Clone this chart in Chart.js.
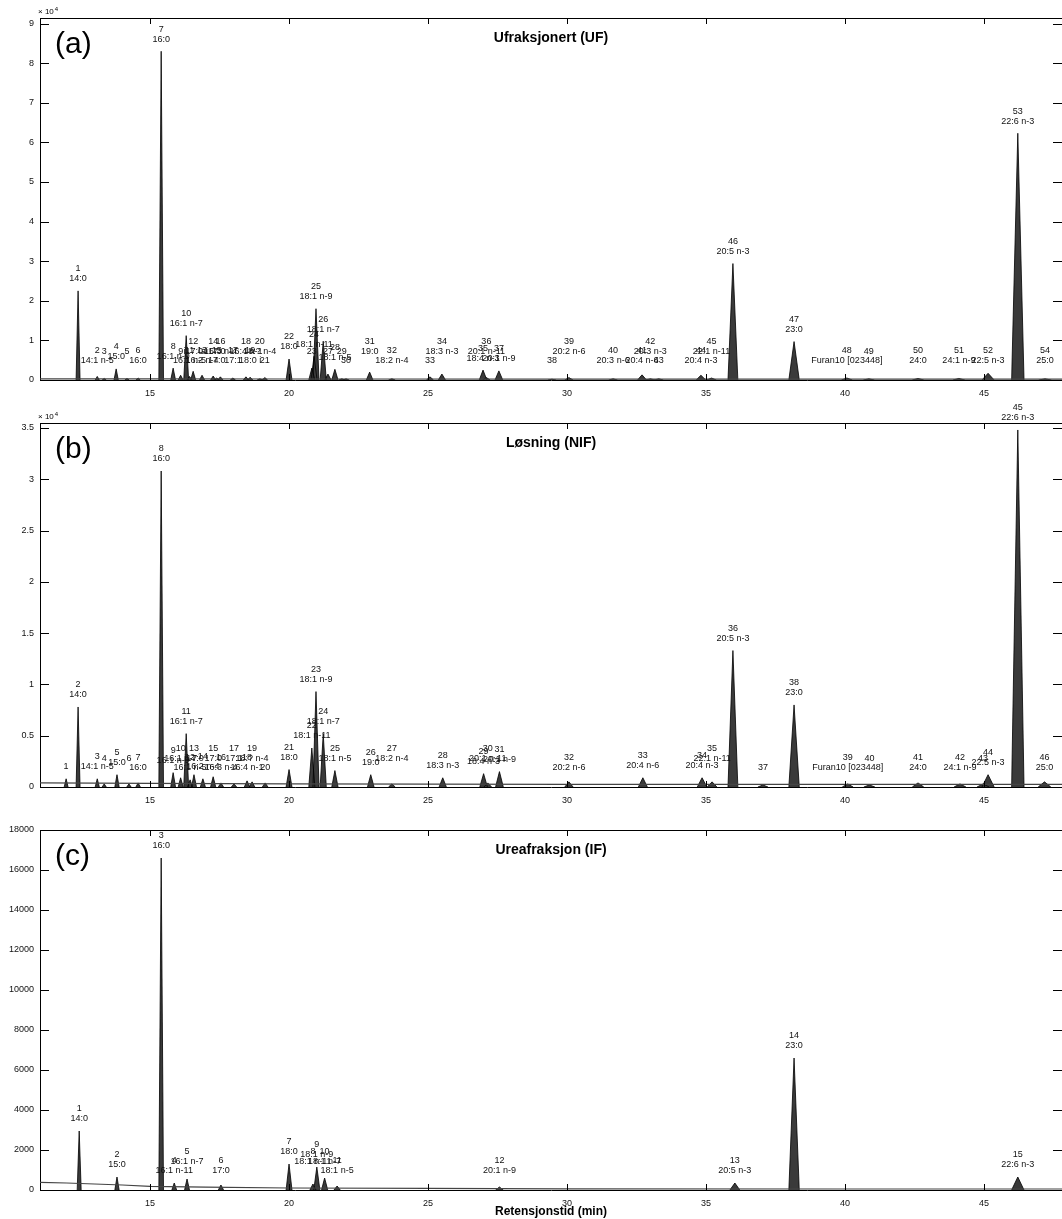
<!DOCTYPE html>
<html>
<head>
<meta charset="utf-8">
<script src="https://cdn.jsdelivr.net/npm/chart.js@4/dist/chart.umd.min.js"></script>
<style>
body { margin: 0; background: #fff; width: 1062px; height: 1219px; overflow: hidden; position: relative; }
canvas { display: block; position: absolute; left: 0; }
#chartA { top: 0; }
#chartB { top: 395px; }
#chartC { top: 810px; }
</style>
</head>
<body>
<canvas id="chartA" width="1062" height="405"></canvas>
<canvas id="chartB" width="1062" height="415"></canvas>
<canvas id="chartC" width="1062" height="409"></canvas>
<script>
// x-akse (retensjonstid, min)
const xTicks = [15, 20, 25, 30, 35, 40, 45];

// (a) Ufraksjonert (UF)
const timesA = [12.41, 13.10, 13.35, 13.78, 14.17, 14.57, 15.40, 15.83, 16.10, 16.30,
  16.42, 16.55, 16.87, 17.27, 17.40, 17.53, 17.98, 18.45, 18.60, 18.95,
  19.13, 20.00, 20.82, 20.90, 20.97, 21.23, 21.40, 21.65, 21.90, 22.05,
  22.90, 23.70, 25.07, 25.50, 26.98, 27.10, 27.55, 29.46, 30.07, 31.66,
  32.70, 33.00, 33.30, 34.82, 35.20, 35.97, 38.17, 40.07, 40.86, 42.63,
  44.10, 45.15, 46.22, 47.20];
const heightsA = [22500, 900, 400, 2800, 400, 500, 83000, 3000, 1200, 11200,
  900, 2200, 1200, 1000, 500, 800, 500, 800, 700, 300,
  600, 5300, 3000, 6000, 18000, 9800, 1500, 2700, 300, 300,
  2000, 300, 800, 1500, 2500, 600, 2300, 200, 600, 300,
  1300, 300, 300, 1200, 500, 29400, 9700, 500, 300, 400,
  400, 1700, 62300, 300];
const namesA = ['14:0', '14:1 n-5', '', '15:0', '', '16:0', '16:0', '16:1 n-9', '', '16:1 n-7',
  '16:1 n-5', 'i17:0', '16:2 n-4', 'ai17:0', '17:0', '16:3 n-4', '17:1', '16:4 n-1', '18:0 i', '18:? n-4',
  '', '18:0', '', '18:1 n-11', '18:1 n-9', '18:1 n-7', '', '18:1 n-5', '', '',
  '19:0', '18:2 n-4', '', '18:3 n-3', '18:4 n-3', '20:1 n-11', '20:1 n-9', '', '20:2 n-6', '20:3 n-6',
  '20:4 n-6', '20:3 n-3', '', '20:4 n-3', '22:1 n-11', '20:5 n-3', '23:0', 'Furan10 [023448]', '', '24:0',
  '24:1 n-9', '22:5 n-3', '22:6 n-3', '25:0'];
const baseTimesA = [11.04, 15, 20, 30, 40, 47.81];
const baseValuesA = [300, 300, 250, 200, 200, 200];
const yTicksA = [0, 10000, 20000, 30000, 40000, 50000, 60000, 70000, 80000, 90000];

// (b) Løsning (NIF)
const timesB = [11.98, 12.41, 13.10, 13.35, 13.81, 14.24, 14.57, 15.40, 15.83, 16.10,
  16.30, 16.44, 16.58, 16.90, 17.27, 17.55, 18.02, 18.49, 18.67, 19.14,
  20.00, 20.82, 20.97, 21.23, 21.65, 22.94, 23.70, 25.53, 27.00, 27.15,
  27.57, 30.07, 32.73, 34.86, 35.22, 35.97, 37.05, 38.17, 40.10, 40.88,
  42.63, 44.14, 44.97, 45.15, 46.22, 47.18];
const heightsB = [800, 7800, 800, 300, 1200, 300, 400, 30800, 1400, 900,
  5200, 700, 1200, 800, 1000, 400, 300, 600, 500, 400,
  1700, 3800, 9300, 5200, 1600, 1200, 300, 900, 1300, 400,
  1500, 500, 900, 900, 500, 13300, 200, 8000, 300, 200,
  400, 300, 300, 1200, 34800, 500];
const namesB = ['', '14:0', '14:1 n-5', '', '15:0', '', '16:0', '16:0', '16:1 n-9', '16:1 n-7',
  '16:1 n-7', '16:1 n-5', 'i17:0', '16:2 n-4', '17:0', '16:3 n-4', '17:1', '16:4 n-1', '18:? n-4', '',
  '18:0', '18:1 n-11', '18:1 n-9', '18:1 n-7', '18:1 n-5', '19:0', '18:2 n-4', '18:3 n-3', '18:4 n-3', '20:1 n-11',
  '20:1 n-9', '20:2 n-6', '20:4 n-6', '20:4 n-3', '22:1 n-11', '20:5 n-3', '', '23:0', 'Furan10 [023448]', '',
  '24:0', '24:1 n-9', '', '22:5 n-3', '22:6 n-3', '25:0'];
const baseTimesB = [11.04, 15, 20, 30, 40, 47.81];
const baseValuesB = [400, 350, 300, 250, 250, 250];
const yTicksB = [0, 5000, 10000, 15000, 20000, 25000, 30000, 35000];

// (c) Ureafraksjon (IF)
const timesC = [12.45, 13.81, 15.40, 15.87, 16.33, 17.55, 20.00, 20.86, 21.00, 21.28,
  21.73, 27.57, 36.04, 38.17, 46.22];
const heightsC = [2950, 650, 16600, 350, 550, 250, 1300, 300, 1150, 600,
  200, 150, 350, 6600, 650];
const namesC = ['14:0', '15:0', '16:0', '16:1 n-11', '16:1 n-7', '17:0', '18:0', '18:1 n-11', '18:1 n-9', '18:1 n-7',
  '18:1 n-5', '20:1 n-9', '20:5 n-3', '23:0', '22:6 n-3'];
const baseTimesC = [11.04, 12, 13, 14, 15, 17, 20, 25, 30, 40, 47.81];
const baseValuesC = [380, 350, 300, 250, 180, 140, 100, 80, 60, 50, 50];
const yTicksC = [0, 2000, 4000, 6000, 8000, 10000, 12000, 14000, 16000, 18000];

Chart.defaults.font.family = '"Liberation Sans", Arial, sans-serif';
Chart.defaults.color = '#111';

// topper som smale trekanter, brutt med null
function peakPoints(times, heights) {
  const pts = [];
  times.forEach((t, i) => {
    const w = 0.065 + 0.0045 * (t - 11);
    pts.push({x: t - w, y: 0}, {x: t, y: heights[i]}, {x: t + w, y: 0}, {x: t + w, y: null});
  });
  return pts;
}

const decorPlugin = {
  id: 'decor',
  afterDatasetsDraw(chart, args, o) {
    const ctx = chart.ctx, a = chart.chartArea;
    const xs = chart.scales.x, ys = chart.scales.y;
    ctx.save();
    ctx.strokeStyle = '#000';
    ctx.lineWidth = 1;
    const line = (x1, y1, x2, y2) => { ctx.beginPath(); ctx.moveTo(x1, y1); ctx.lineTo(x2, y2); ctx.stroke(); };
    line(a.left, a.top + 0.5, a.right, a.top + 0.5);
    xs.ticks.forEach(t => {
      const px = Math.round(xs.getPixelForValue(t.value)) + 0.5;
      line(px, a.bottom, px, a.bottom - 6);
      line(px, a.top, px, a.top + 6);
    });
    ys.ticks.forEach(t => {
      const py = Math.round(ys.getPixelForValue(t.value)) + 0.5;
      line(a.left, py, a.left + 9, py);
      line(a.right, py, a.right - 9, py);
    });

    // toppnummer og navn
    ctx.fillStyle = '#111';
    ctx.font = '9px "Liberation Sans", Arial, sans-serif';
    ctx.textAlign = 'center';
    ctx.textBaseline = 'middle';
    const base = ys.getPixelForValue(0);
    let lastX = -100, lastStag = false;
    o.times.forEach((t, i) => {
      const px = xs.getPixelForValue(t);
      const top = ys.getPixelForValue(o.heights[i]);
      const small = top > base - 30;
      let stag = false;
      if (small && px - lastX < 24) stag = !lastStag;
      if (small) { lastX = px; lastStag = stag; }
      const nameY = Math.min(top - 12, base - 19 - (stag ? 9 : 0));
      const name = o.names[i];
      if (name) ctx.fillText(name, px, nameY);
      ctx.fillText(String(i + 1), px, name ? nameY - 10 : nameY);
    });

    // tittel og panelbokstav
    ctx.font = 'bold 14px "Liberation Sans", Arial, sans-serif';
    ctx.fillStyle = '#000';
    ctx.fillText(o.title, (a.left + a.right) / 2, a.top + 20);
    ctx.font = '30px "Liberation Sans", Arial, sans-serif';
    ctx.textAlign = 'left';
    ctx.fillText(o.letter, a.left + 15, a.top + 27);

    if (o.exponent) {
      ctx.font = '8px "Liberation Sans", Arial, sans-serif';
      const lbl = '\u00d7 10';
      ctx.fillText(lbl, a.left - 2, a.top - 6);
      const wLbl = ctx.measureText(lbl).width;
      ctx.font = '6px "Liberation Sans", Arial, sans-serif';
      ctx.fillText('4', a.left - 1 + wLbl, a.top - 9);
    }
    if (o.xTitle) {
      ctx.font = 'bold 12px "Liberation Sans", Arial, sans-serif';
      ctx.textAlign = 'center';
      ctx.fillText(o.xTitle, (a.left + a.right) / 2, a.bottom + 22);
    }
    ctx.restore();
  }
};

function makeChart(id, p) {
  return new Chart(document.getElementById(id), {
    type: 'line',
    data: {
      datasets: [
        {
          data: p.baseTimes.map((t, i) => ({x: t, y: p.baseValues[i]})),
          borderColor: '#444',
          borderWidth: 1.2,
          pointRadius: 0,
          fill: false
        },
        {
          data: peakPoints(p.times, p.heights),
          borderColor: '#000',
          borderWidth: 0.8,
          backgroundColor: '#3a3a3a',
          fill: 'origin',
          pointRadius: 0,
          tension: 0,
          spanGaps: false
        }
      ]
    },
    options: {
      responsive: false,
      animation: false,
      devicePixelRatio: 1,
      layout: { padding: { top: p.padTop, left: 0, right: 0, bottom: 0 } },
      plugins: {
        legend: { display: false },
        tooltip: { enabled: false },
        decor: {
          times: p.times, heights: p.heights, names: p.names,
          title: p.title, letter: p.letter, exponent: p.exponent, xTitle: p.xTitle
        }
      },
      scales: {
        x: {
          type: 'linear',
          min: 11.04,
          max: 47.81,
          afterBuildTicks: axis => { axis.ticks = xTicks.map(v => ({value: v})); },
          afterFit: axis => { axis.height = p.xHeight; },
          grid: { display: false, drawTicks: false },
          border: { display: true, color: '#000', width: 1 },
          ticks: { padding: 8, font: { size: 9 }, color: '#111', maxRotation: 0 }
        },
        y: {
          type: 'linear',
          min: 0,
          max: p.yMax,
          afterBuildTicks: axis => { axis.ticks = p.yTicks.map(v => ({value: v})); },
          afterFit: axis => { axis.width = 40; },
          grid: { display: false, drawTicks: false },
          border: { display: true, color: '#000', width: 1 },
          ticks: { padding: 6, font: { size: 9 }, color: '#111', callback: v => p.fmt(v) }
        }
      }
    },
    plugins: [decorPlugin]
  });
}

makeChart('chartA', {
  times: timesA, heights: heightsA, names: namesA,
  baseTimes: baseTimesA, baseValues: baseValuesA, yTicks: yTicksA,
  yMax: 91400, padTop: 18, xHeight: 25, exponent: true,
  fmt: v => String(v / 10000), title: 'Ufraksjonert (UF)', letter: '(a)'
});
makeChart('chartB', {
  times: timesB, heights: heightsB, names: namesB,
  baseTimes: baseTimesB, baseValues: baseValuesB, yTicks: yTicksB,
  yMax: 35480, padTop: 28, xHeight: 23, exponent: true,
  fmt: v => String(v / 10000), title: 'L\u00f8sning (NIF)', letter: '(b)'
});
makeChart('chartC', {
  times: timesC, heights: heightsC, names: namesC,
  baseTimes: baseTimesC, baseValues: baseValuesC, yTicks: yTicksC,
  yMax: 18000, padTop: 20, xHeight: 29, exponent: false,
  fmt: v => String(v), title: 'Ureafraksjon (IF)', letter: '(c)', xTitle: 'Retensjonstid (min)'
});
</script>
</body>
</html>
